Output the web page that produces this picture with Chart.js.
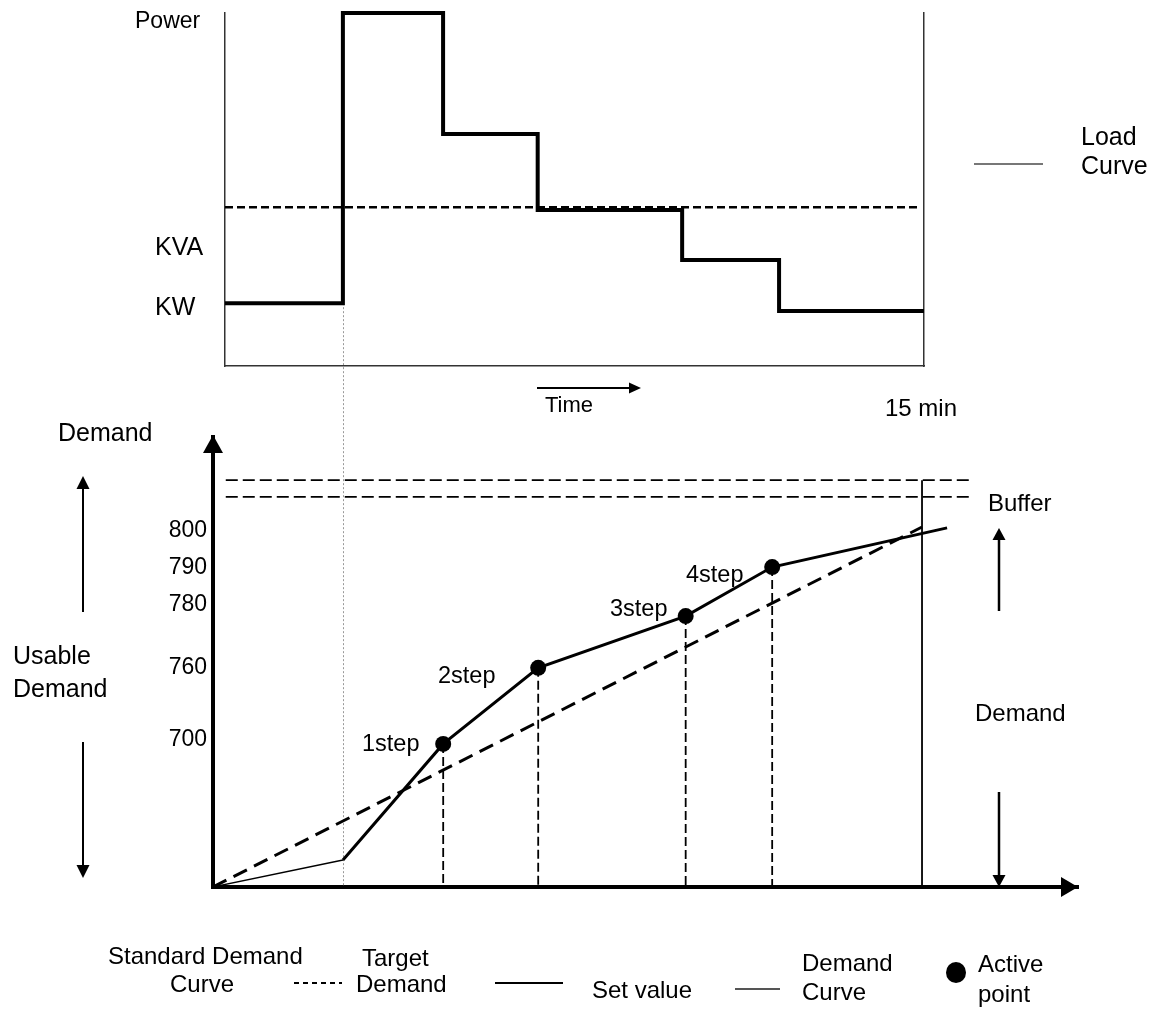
<!DOCTYPE html>
<html>
<head>
<meta charset="utf-8">
<script src="https://cdn.jsdelivr.net/npm/chart.js@4.4.1/dist/chart.umd.min.js"></script>
<style>
body{margin:0;background:#fff;font-family:"Liberation Sans",Arial,sans-serif;color:#000}
#wrap{position:relative;width:1157px;height:1012px;overflow:hidden;background:#fff}
canvas{position:absolute;left:0;top:0}
.t{position:absolute;line-height:1;transform:translateY(-50%);white-space:nowrap}
.ln{position:absolute}
</style>
</head>
<body>
<div id="wrap">
<canvas id="demandChart" width="1157" height="1012"></canvas>
<canvas id="loadChart" width="1157" height="380"></canvas>

<div class="t" style="left:135px;top:20px;font-size:23px">Power</div>
<div class="t" style="left:1081px;top:136px;font-size:25px">Load</div>
<div class="t" style="left:1081px;top:165px;font-size:25px">Curve</div>
<div class="ln" style="left:974px;top:163px;width:69px;height:2px;background:#777"></div>
<div class="t" style="left:545px;top:405px;font-size:22px">Time</div>
<div class="t" style="left:885px;top:408px;font-size:24px">15 min</div>

<div class="t" style="left:58px;top:432px;font-size:25px">Demand</div>
<div class="t" style="left:13px;top:655px;font-size:25px">Usable</div>
<div class="t" style="left:13px;top:688px;font-size:25px">Demand</div>
<div class="t" style="left:362px;top:744px;font-size:23.5px">1step</div>
<div class="t" style="left:438px;top:676px;font-size:23.5px">2step</div>
<div class="t" style="left:610px;top:609px;font-size:23.5px">3step</div>
<div class="t" style="left:686px;top:575px;font-size:23.5px">4step</div>
<div class="t" style="left:988px;top:503px;font-size:24px">Buffer</div>
<div class="t" style="left:975px;top:713px;font-size:24px">Demand</div>

<!-- legend -->
<div class="t" style="left:108px;top:956px;font-size:24px">Standard Demand</div>
<div class="t" style="left:170px;top:984px;font-size:24px">Curve</div>
<div class="ln" style="left:294px;top:982px;width:48px;height:2px;background:repeating-linear-gradient(to right,#000 0 5px,transparent 5px 9px)"></div>
<div class="t" style="left:362px;top:958px;font-size:24px">Target</div>
<div class="t" style="left:356px;top:984px;font-size:24px">Demand</div>
<div class="ln" style="left:495px;top:982px;width:68px;height:2px;background:#000"></div>
<div class="t" style="left:592px;top:990px;font-size:24px">Set value</div>
<div class="ln" style="left:735px;top:988px;width:45px;height:2px;background:#555"></div>
<div class="t" style="left:802px;top:963px;font-size:24px">Demand</div>
<div class="t" style="left:802px;top:992px;font-size:24px">Curve</div>
<div class="ln" style="left:946px;top:962px;width:20px;height:21px;border-radius:50%;background:#000"></div>
<div class="t" style="left:978px;top:964px;font-size:24px">Active</div>
<div class="t" style="left:978px;top:994px;font-size:24px">point</div>
</div>

<script>

// LOAD CURVE (top) - time in minutes, power in diagram units

const loadTimes = [0, 2.53, 4.68, 6.71, 9.81, 11.89, 15]
const loadValues = [17.8, 100, 65.7, 44.2, 30.0, 15.6, 15.6]
const kvaLimit = 45
const kvaLimitEnd = 14.9
const loadTickPos = [16.4, 33.4]
const loadTickLabels = ['KW', 'KVA']


// DEMAND CURVE (bottom)

const demandTimes = [0, 2.75]
const demandValues = [0, 6.0]
const setTimes = [2.75, 4.87, 6.88, 10.0, 11.83, 15.53]
const setValues = [6.0, 31.8, 48.7, 60.2, 71.1, 79.8]
const activeTimes = [4.87, 6.88, 10.0, 11.83]
const activeValues = [31.8, 48.7, 60.2, 71.1]
const standardTimes = [0, 15]
const standardValues = [0, 80]
const bufferLevels = [90.4, 86.7]
const bufferFrom = 0.27
const bufferTo = 16.0
const periodEnd = 15
const demandTickPos = [32.7, 48.7, 62.7, 70.9, 79.1]
const demandTickLabels = ['700', '760', '780', '790', '800']

Chart.defaults.font.family = '"Liberation Sans", Arial, sans-serif'
Chart.defaults.color = '#000'

const pts = (xs, ys) => xs.map((x, i) => ({x: x, y: ys[i]}))

const hidden = {display: false, drawTicks: false}


const loadChart = new Chart(document.getElementById('loadChart'), {
type: 'line',
data: {
datasets: [{
label: 'Load Curve',
data: pts(loadTimes, loadValues),
stepped: 'before',
borderColor: '#000',
borderWidth: 4,
pointRadius: 0,
clip: false
}, {
label: 'KVA',
data: [{x: 0, y: kvaLimit}, {x: kvaLimitEnd, y: kvaLimit}],
borderColor: '#000',
borderWidth: 2.5,
borderDash: [8, 4],
pointRadius: 0
}]
},
options: {
responsive: false,
animation: false,
layout: {padding: {left: 155, right: 233, top: 13, bottom: 14}},
plugins: {legend: {display: false}, tooltip: {enabled: false}},
scales: {
x: {
type: 'linear', min: 0, max: 15,
ticks: {display: false}, grid: hidden,
border: {color: '#333', width: 1.5},
afterFit(s) { s.height = 0 }
},
y: {
min: 0, max: 100,
afterBuildTicks(s) { s.ticks = loadTickPos.map(v => ({value: v})) },
ticks: {crossAlign: 'far', padding: 0, autoSkip: false, font: {size: 25}, callback: (v, i) => loadTickLabels[i]},
grid: hidden,
border: {color: '#333', width: 1.5},
afterFit(s) { s.width = 70; s.paddingTop = 0; s.paddingBottom = 0 }
},
yRight: {
position: 'right', min: 0, max: 100,
ticks: {display: false}, grid: hidden,
border: {color: '#333', width: 1.5},
afterFit(s) { s.width = 0 }
}
}
}
})


// arrows and guide line

function head(ctx, x, y, ang, len, half) {
ctx.beginPath()
ctx.moveTo(x, y)
ctx.lineTo(x - Math.cos(ang) * len - Math.sin(ang) * half, y - Math.sin(ang) * len + Math.cos(ang) * half)
ctx.lineTo(x - Math.cos(ang) * len + Math.sin(ang) * half, y - Math.sin(ang) * len - Math.cos(ang) * half)
ctx.closePath()
ctx.fill()
}

function arrow(ctx, x1, y1, x2, y2, len, half, lw) {
const ang = Math.atan2(y2 - y1, x2 - x1)
ctx.lineWidth = lw
ctx.beginPath()
ctx.moveTo(x1, y1)
ctx.lineTo(x2 - Math.cos(ang) * len * 0.7, y2 - Math.sin(ang) * len * 0.7)
ctx.stroke()
head(ctx, x2, y2, ang, len, half)
}

const decorations = {
id: 'decorations',
beforeDatasetsDraw(chart) {
const ctx = chart.ctx
const xs = chart.scales.x
const ys = chart.scales.y
const gx = Math.round(xs.getPixelForValue(setTimes[0])) + 0.5
ctx.save()
ctx.strokeStyle = '#999'
ctx.lineWidth = 1
ctx.setLineDash([2, 2])
ctx.beginPath()
ctx.moveTo(gx, loadChart.scales.y.getPixelForValue(loadValues[0]))
ctx.lineTo(gx, ys.getPixelForValue(0))
ctx.stroke()
ctx.restore()
},
afterDraw(chart) {
const ctx = chart.ctx
const a = chart.chartArea
ctx.save()
ctx.fillStyle = '#000'
ctx.strokeStyle = '#000'
head(ctx, a.left, a.top - 2, -Math.PI / 2, 18, 10)
head(ctx, a.right, a.bottom, 0, 17, 10)
arrow(ctx, 83, 612, 83, 476, 13, 6.5, 2)
arrow(ctx, 83, 742, 83, 878, 13, 6.5, 2)
arrow(ctx, 999, 611, 999, 528, 12, 6.5, 2.5)
arrow(ctx, 999, 792, 999, chart.scales.y.getPixelForValue(0), 12, 6.5, 2.5)
arrow(ctx, 537, 388, 641, 388, 12, 5.5, 2)
ctx.restore()
}
}


const demandChart = new Chart(document.getElementById('demandChart'), {
type: 'line',
data: {
datasets: [{
label: 'Active point',
data: pts(activeTimes, activeValues),
showLine: false,
pointRadius: 8,
pointBackgroundColor: '#000',
pointBorderWidth: 0
}, {
label: 'Set value',
data: pts(setTimes, setValues),
borderColor: '#000',
borderWidth: 3,
pointRadius: 0
}, {
label: 'Demand Curve',
data: pts(demandTimes, demandValues),
borderColor: '#000',
borderWidth: 1.3,
pointRadius: 0
}, {
label: 'Standard Demand Curve',
data: pts(standardTimes, standardValues),
borderColor: '#000',
borderWidth: 3,
borderDash: [15, 8],
pointRadius: 0
}, {
label: 'step drops',
data: activeTimes.flatMap((t, i) => [{x: t, y: activeValues[i]}, {x: t, y: 0}, {x: t, y: null}]),
borderColor: '#000',
borderWidth: 1.8,
borderDash: [9, 4],
pointRadius: 0,
spanGaps: false
}, {
label: '15 min',
data: [{x: periodEnd, y: 0}, {x: periodEnd, y: bufferLevels[0]}],
borderColor: '#000',
borderWidth: 1.8,
pointRadius: 0
}, {
label: 'Buffer',
data: bufferLevels.flatMap(v => [{x: bufferFrom, y: v}, {x: bufferTo, y: v}, {x: bufferTo, y: null}]),
borderColor: '#000',
borderWidth: 1.8,
borderDash: [12, 5],
pointRadius: 0,
spanGaps: false
}]
},
options: {
responsive: false,
animation: false,
layout: {padding: {left: 153, right: 79, top: 437, bottom: 125}},
plugins: {legend: {display: false}, tooltip: {enabled: false}},
scales: {
x: {
type: 'linear', min: 0, max: 18.3,
ticks: {display: false}, grid: hidden,
border: {color: '#000', width: 4},
afterFit(s) { s.height = 0 }
},
y: {
min: 0, max: 100,
afterBuildTicks(s) { s.ticks = demandTickPos.map(v => ({value: v})) },
ticks: {padding: 6, autoSkip: false, font: {size: 23}, callback: (v, i) => demandTickLabels[i]},
grid: hidden,
border: {color: '#000', width: 4},
afterFit(s) { s.width = 60; s.paddingTop = 0; s.paddingBottom = 0 }
}
}
},
plugins: [decorations]
})

</script>
</body>
</html>
